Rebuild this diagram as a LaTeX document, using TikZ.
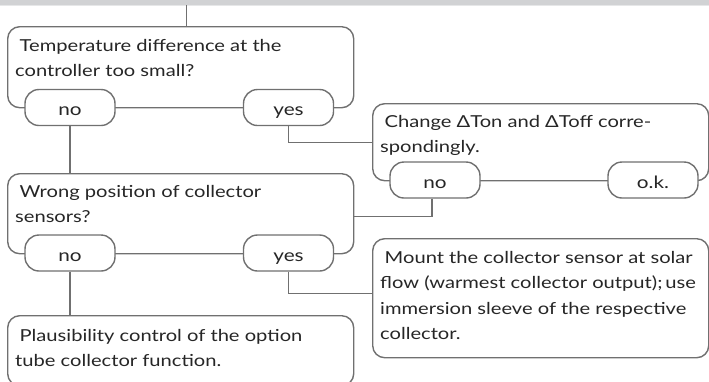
\documentclass[tikz,border=0pt]{standalone}
\usepackage{fontspec}
\newfontfamily\gill[FakeStretch=1.22]{Lato}
\definecolor{linegray}{RGB}{112,112,112}
\definecolor{bandgray}{RGB}{209,210,212}
\definecolor{bandlight}{RGB}{230,231,232}
\newcommand{\boxtext}[1]{\parbox[t]{330pt}{\raggedright\gill\fontsize{16.5}{25.5}\selectfont #1}}
\tikzset{
  box/.style={draw=linegray, line width=1.4pt, rounded corners=12pt, inner sep=0pt, anchor=north west},
  pill/.style={draw=linegray, line width=1.4pt, fill=white, rounded corners=14pt, minimum width=90pt, minimum height=36pt, inner sep=0pt, text height=16pt, text depth=0pt, font=\gill\fontsize{17}{18}\selectfont, text=black!85},
  txt/.style={inner sep=0pt, anchor=base west, text=black!85},
  conn/.style={draw=linegray, line width=1.4pt}
}
\begin{document}
\begin{tikzpicture}[x=1pt, y=-1pt]
\useasboundingbox (0,0) rectangle (709,381);
\fill[bandlight] (0,0) rectangle (709,5.5);
\node[fill=bandgray, minimum width=709pt, minimum height=4.3pt, inner sep=0pt, anchor=north west] (band) at (0,0) {};
% boxes
\node[box, minimum width=346pt, minimum height=81pt] (box1) at (7,26) {};
\node[box, minimum width=346pt, minimum height=80pt] (box2) at (7,173) {};
\node[box, minimum width=336pt, minimum height=77pt] (box3) at (372,103) {};
\node[box, minimum width=346pt, minimum height=70pt] (box4) at (7,315) {};
\node[box, minimum width=336pt, minimum height=119pt] (box5) at (372,238) {};
% connectors
\draw[conn] ([xshift=5.5pt]box1.north) -- ([xshift=5.5pt]box1.north |- band.south);
% pills
\node[pill] (no1) at (70,107.5) {no};
\node[pill] (yes1) at (288.5,107.5) {yes};
\node[pill] (no2) at (70,253) {no};
\node[pill] (yes2) at (288.5,253) {yes};
\node[pill] (no3) at (435,180) {no};
\node[pill] (ok3) at (653,180) {o.k.};
\draw[conn] (no1.south) -- (no1.south |- box2.north);
\draw[conn] (yes1.south) |- (box3.west);
\draw[conn] ([xshift=-3pt]no3.south) |- ([yshift=-3pt]box2.east);
\draw[conn] (no2.south) -- (no2.south |- box4.north);
\draw[conn] (yes2.south) |- ([yshift=4.5pt]box5.west);
% texts
\node[txt] (t1) at (15,51) {\boxtext{\hspace*{4.5pt}Temperature difference at the\\controller too small?}};
\node[txt] (t2) at (15,197) {\boxtext{\hspace*{4.5pt}Wrong position of collector\\sensors?}};
\node[txt] (t3) at (380,127) {\boxtext{\hspace*{4.5pt}Change ΔTon and ΔToff corre-\\spondingly.}};
\node[txt] (t4) at (15,341) {\boxtext{\hspace*{4.5pt}Plausibility control of the option\\tube collector function.}};
\node[txt] (t5) at (380,263) {\boxtext{\hspace*{4.5pt}Mount the collector sensor at solar\\flow (warmest collector output);\,use\\immersion sleeve of the respective\\collector.}};
\end{tikzpicture}
\end{document}
